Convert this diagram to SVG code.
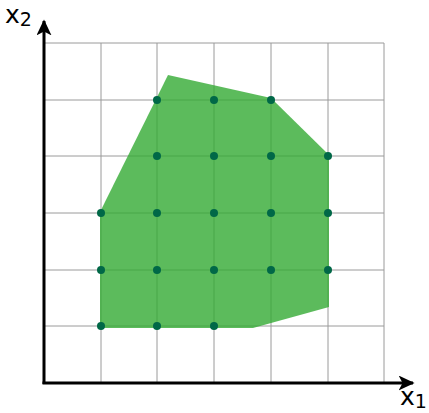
<svg xmlns="http://www.w3.org/2000/svg" width="429" height="413" viewBox="0 0 429 413">
<style>
.grid{stroke:#9a9a9a;stroke-width:1;fill:none}
.axis{stroke:#000;stroke-width:3;fill:none}
.dot{fill:#006847}
.lbl{font-family:"DejaVu Sans",sans-serif;font-size:25px;fill:#000}
</style>
<defs>
<marker id="ah" viewBox="0 0 10 10" refX="9" refY="5" markerWidth="16" markerHeight="15" markerUnits="userSpaceOnUse" orient="auto" preserveAspectRatio="none">
<path d="M0,0 L10,5 L0,10 L2.5,5 Z" fill="#000"/>
</marker>
</defs>
<g id="grid">
<path class="grid" d="M44,43H384M44,100H384M44,156H384M44,213H384M44,270H384M44,326H384M101,43V383M157,43V383M214,43V383M271,43V383M328,43V383M384,43V383"/>
</g>
<g id="region">
<polygon points="100,212 168,75 271,98 329,155 329,307 253,328 100,328" fill="#33aa33" fill-opacity="0.8"/>
</g>
<g id="points">
<circle class="dot" cx="157" cy="100" r="4"/><circle class="dot" cx="214" cy="100" r="4"/><circle class="dot" cx="271" cy="100" r="4"/>
<circle class="dot" cx="157" cy="156" r="4"/><circle class="dot" cx="214" cy="156" r="4"/><circle class="dot" cx="271" cy="156" r="4"/><circle class="dot" cx="328" cy="156" r="4"/>
<circle class="dot" cx="101" cy="213" r="4"/><circle class="dot" cx="157" cy="213" r="4"/><circle class="dot" cx="214" cy="213" r="4"/><circle class="dot" cx="271" cy="213" r="4"/><circle class="dot" cx="328" cy="213" r="4"/>
<circle class="dot" cx="101" cy="270" r="4"/><circle class="dot" cx="157" cy="270" r="4"/><circle class="dot" cx="214" cy="270" r="4"/><circle class="dot" cx="271" cy="270" r="4"/><circle class="dot" cx="328" cy="270" r="4"/>
<circle class="dot" cx="101" cy="326" r="4"/><circle class="dot" cx="157" cy="326" r="4"/><circle class="dot" cx="214" cy="326" r="4"/>
</g>
<g id="axes">
<path class="axis" d="M44,384V21" marker-end="url(#ah)"/>
<path class="axis" d="M42.5,383H413" marker-end="url(#ah)"/>
</g>
<g id="labels">
<text class="lbl" x="400" y="405">x<tspan font-size="19" dy="3">1</tspan></text>
<text class="lbl" x="5" y="23">x<tspan font-size="19" dy="3">2</tspan></text>
</g>
</svg>
